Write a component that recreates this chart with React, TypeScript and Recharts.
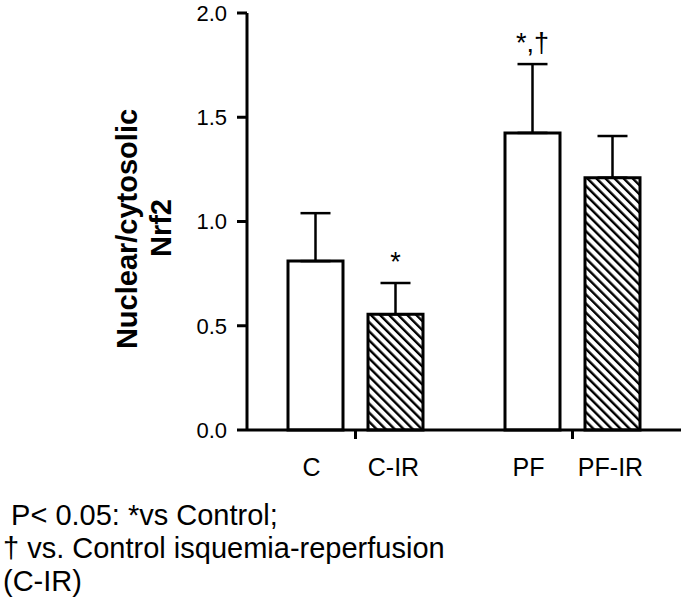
import React from "react";
import { BarChart, Bar, XAxis, YAxis, ErrorBar, LabelList } from "recharts";

const groups = ["C", "PF"];
const controlLabels = ["C", "PF"];
const irLabels = ["C-IR", "PF-IR"];
const controlMean = [0.81, 1.425];
const controlSem = [0.23, 0.33];
const irMean = [0.555, 1.21];
const irSem = [0.15, 0.2];
const controlMarks = ["", "*,†"];
const irMarks = ["*", ""];
const yTicks = [0, 0.5, 1, 1.5, 2];
const yTitle = ["Nuclear/cytosolic", "Nrf2"];
const footnote = [
  " P< 0.05: *vs Control;",
  "† vs. Control isquemia-reperfusion",
  "(C-IR)",
];

const data = groups.map((g, i) => ({
  group: g,
  control: controlMean[i],
  controlErr: [0, controlSem[i]],
  ir: irMean[i],
  irErr: [0, irSem[i]],
}));

const FONT = "'Liberation Sans', Arial, Helvetica, sans-serif";

function GroupTick({ x, y, payload }: any) {
  const i = payload.index;
  return (
    <g>
      <text x={x - 44} y={y + 35} textAnchor="middle" fontSize={25} fontFamily={FONT} fill="#000">
        {controlLabels[i]}
      </text>
      <text x={x + 38} y={y + 35} textAnchor="middle" fontSize={25} fontFamily={FONT} fill="#000">
        {irLabels[i]}
      </text>
    </g>
  );
}

// significance marks sit just above the top of the error bar
const markLabel = (marks: string[], means: number[], sems: number[]) => (props: any) => {
  const { x, y, width, height, index } = props;
  const mark = marks[index];
  if (!mark) return null;
  const top = y - (sems[index] * height) / means[index];
  return (
    <text x={x + width / 2} y={top - 12} textAnchor="middle" fontSize={27} fontFamily={FONT} fill="#000">
      {mark}
    </text>
  );
};

export default function App() {
  return (
    <div style={{ position: "absolute", left: 0, top: 0, width: 688, height: 610, background: "#fff" }}>
      <BarChart
        width={688}
        height={610}
        data={data}
        margin={{ top: 13, right: 7, left: 0, bottom: 0 }}
        barSize={55}
        barGap={25}
      >
        <defs>
          <pattern id="hatch" patternUnits="userSpaceOnUse" width={6.4} height={6.4} patternTransform="rotate(-45)">
            <rect x={0} y={0} width={6.4} height={6.4} fill="#fff" />
            <rect x={0} y={0} width={2.4} height={6.4} fill="#000" />
          </pattern>
        </defs>
        <XAxis
          dataKey="group"
          height={180}
          axisLine={{ stroke: "#000", strokeWidth: 3 }}
          tickLine={{ stroke: "#000", strokeWidth: 3 }}
          tickSize={9}
          tick={<GroupTick />}
          interval={0}
        />
        <YAxis
          width={247}
          domain={[0, 2]}
          ticks={yTicks}
          tickFormatter={(v: number) => v.toFixed(1)}
          axisLine={{ stroke: "#000", strokeWidth: 3 }}
          tickLine={{ stroke: "#000", strokeWidth: 3 }}
          tickSize={10}
          tickMargin={10}
          tick={{ fill: "#000", fontSize: 22, fontFamily: FONT }}
        />
        <Bar dataKey="control" fill="#fff" stroke="#000" strokeWidth={3} isAnimationActive={false}>
          <ErrorBar dataKey="controlErr" width={15} stroke="#000" strokeWidth={2.5} direction="y" />
          <LabelList dataKey="control" content={markLabel(controlMarks, controlMean, controlSem)} />
        </Bar>
        <Bar dataKey="ir" fill="url(#hatch)" stroke="#000" strokeWidth={3} isAnimationActive={false}>
          <ErrorBar dataKey="irErr" width={15} stroke="#000" strokeWidth={2.5} direction="y" />
          <LabelList dataKey="ir" content={markLabel(irMarks, irMean, irSem)} />
        </Bar>
      </BarChart>
      <svg width={688} height={610} style={{ position: "absolute", left: 0, top: 0, pointerEvents: "none" }}>
        <text
          x={137}
          y={229}
          transform="rotate(-90, 137, 229)"
          textAnchor="middle"
          fontSize={29}
          fontWeight="bold"
          fontFamily={FONT}
          fill="#000"
        >
          {yTitle[0]}
        </text>
        <text
          x={171}
          y={228}
          transform="rotate(-90, 171, 228)"
          textAnchor="middle"
          fontSize={29}
          fontWeight="bold"
          fontFamily={FONT}
          fill="#000"
        >
          {yTitle[1]}
        </text>
        {footnote.map((line, i) => (
          <text
            key={i}
            x={3}
            y={525 + i * 33}
            fontSize={29}
            fontFamily={FONT}
            fill="#000"
            style={{ whiteSpace: "pre" }}
          >
            {line}
          </text>
        ))}
      </svg>
    </div>
  );
}
